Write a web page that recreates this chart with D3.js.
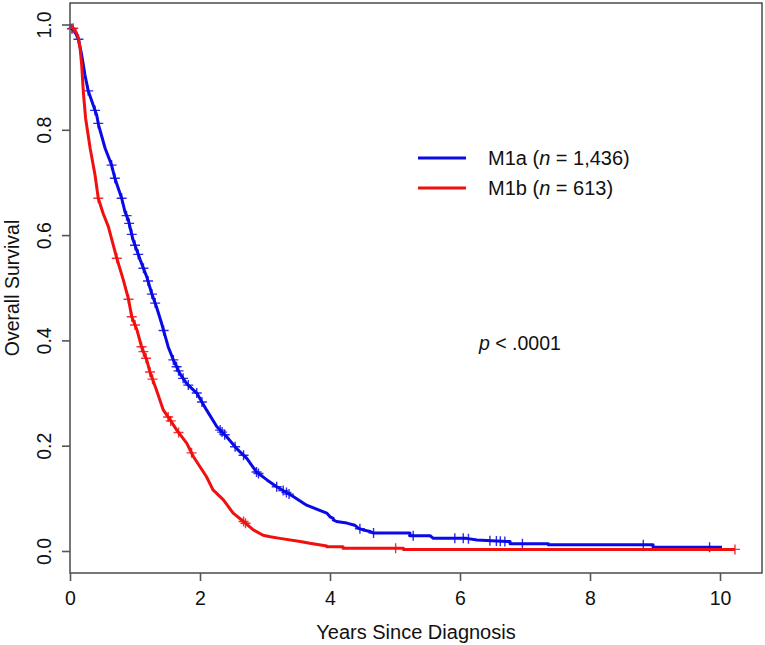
<!DOCTYPE html>
<html>
<head>
<meta charset="utf-8">
<script src="https://cdn.jsdelivr.net/npm/d3@7"></script>
<style>
  body { margin: 0; background: #fff; }
  svg { display: block; font-family: "Liberation Sans", Arial, sans-serif; }
</style>
</head>
<body>
<svg id="chart" width="765" height="645"></svg>
<script>
// Kaplan-Meier curves: [years, survival]
const m1aCurve = [
  [0, 1.0], [0.03, 0.992], [0.08, 0.985], [0.13, 0.972], [0.18, 0.942], [0.23, 0.904], [0.28, 0.874],
  [0.41, 0.828], [0.44, 0.809], [0.54, 0.765], [0.64, 0.733], [0.69, 0.708], [0.795, 0.670],
  [0.846, 0.644], [0.897, 0.629], [0.97, 0.591], [1.08, 0.553], [1.18, 0.521], [1.257, 0.489],
  [1.33, 0.464], [1.41, 0.432], [1.51, 0.388], [1.59, 0.363], [1.69, 0.337], [1.795, 0.318],
  [1.95, 0.300], [2.10, 0.268], [2.26, 0.236], [2.41, 0.217], [2.56, 0.195], [2.72, 0.176],
  [2.87, 0.150], [3.03, 0.135], [3.18, 0.122], [3.44, 0.103], [3.64, 0.087], [3.95, 0.072],
  [4.0, 0.065], [4.05, 0.062], [4.05, 0.059], [4.10, 0.056], [4.26, 0.053], [4.38, 0.049],
  [4.44, 0.043], [4.51, 0.040], [4.62, 0.037], [4.67, 0.034], [5.23, 0.034], [5.23, 0.029],
  [5.54, 0.029], [5.59, 0.024], [6.10, 0.024], [6.26, 0.021], [6.72, 0.018], [6.77, 0.018],
  [6.77, 0.014], [7.36, 0.014], [7.36, 0.012], [8.97, 0.012], [8.97, 0.007], [10.03, 0.007]
];
const m1bCurve = [
  [0, 1.0], [0.05, 0.993], [0.1, 0.984], [0.13, 0.974], [0.155, 0.955], [0.18, 0.923], [0.205, 0.872],
  [0.24, 0.822], [0.31, 0.765], [0.385, 0.714], [0.435, 0.670], [0.51, 0.641], [0.59, 0.616], [0.72, 0.556],
  [0.82, 0.515], [0.897, 0.480], [0.95, 0.445], [1.03, 0.420], [1.10, 0.388], [1.18, 0.363],
  [1.23, 0.340], [1.33, 0.306], [1.435, 0.268], [1.54, 0.249], [1.64, 0.230], [1.795, 0.205],
  [1.90, 0.179], [2.0, 0.160], [2.10, 0.141], [2.2, 0.116], [2.36, 0.097], [2.51, 0.072],
  [2.67, 0.056], [2.82, 0.040], [2.97, 0.030], [3.08, 0.027], [3.23, 0.024], [3.54, 0.018],
  [3.69, 0.0146], [3.95, 0.0095], [3.95, 0.008], [4.2, 0.008], [4.2, 0.005], [5.13, 0.005],
  [5.13, 0.003], [10.23, 0.003]
];
// censoring times (years)
const m1aCensor = [0.03, 0.13, 0.28, 0.385, 0.435, 0.64, 0.69, 0.795, 0.87, 0.91, 0.95, 1.0,
  1.05, 1.13, 1.2, 1.26, 1.31, 1.44, 1.59, 1.64, 1.67, 1.74, 1.82, 1.95, 2.03, 2.31, 2.34,
  2.38, 2.54, 2.67, 2.87, 2.9, 3.18, 3.28, 3.33, 3.37, 4.46, 4.67, 5.28, 5.92, 6.05, 6.13,
  6.46, 6.56, 6.62, 6.69, 6.96, 8.82, 9.84];
const m1bCensor = [0.05, 0.435, 0.72, 0.90, 0.95, 1.0, 1.1, 1.13, 1.17, 1.23, 1.27, 1.51,
  1.55, 1.67, 1.87, 2.67, 2.70, 5.01, 10.23];

const xTicks = [0, 2, 4, 6, 8, 10];
const yTicks = [0, 0.2, 0.4, 0.6, 0.8, 1.0];
const series = [
  { name: 'M1a', n: '1,436', curve: m1aCurve, censor: m1aCensor, color: '#0a0ae6' },
  { name: 'M1b', n: '613', curve: m1bCurve, censor: m1bCensor, color: '#f01010' }
];

const svg = d3.select('#chart');
const box = { left: 70, right: 762, top: 3, bottom: 573 };

const x = d3.scaleLinear().domain([0, 10.646]).range([box.left, box.right]);
const y = d3.scaleLinear().domain([0, 1]).range([551, 24.5]);

// survival at time t along the drawn polyline
function survAt(curve, t) {
  for (let i = 1; i < curve.length; i++) {
    const a = curve[i - 1], b = curve[i];
    if (t <= b[0]) {
      if (b[0] === a[0]) return a[1];
      return a[1] + (b[1] - a[1]) * (t - a[0]) / (b[0] - a[0]);
    }
  }
  return curve[curve.length - 1][1];
}

const line = d3.line().x(d => x(d[0])).y(d => y(d[1]));

series.forEach(s => {
  svg.append('path')
    .datum(s.curve)
    .attr('d', line)
    .attr('fill', 'none')
    .attr('stroke', s.color)
    .attr('stroke-width', 3)
    .attr('stroke-linejoin', 'round');

  svg.append('g')
    .selectAll('path')
    .data(s.censor)
    .enter()
    .append('path')
    .attr('d', t => {
      const cx = x(t), cy = y(survAt(s.curve, t));
      return `M${cx - 5},${cy}H${cx + 5}M${cx},${cy - 5}V${cy + 5}`;
    })
    .attr('stroke', s.color)
    .attr('stroke-width', 1.4)
    .attr('opacity', 0.85);
});

// frame
svg.append('rect')
  .attr('x', box.left)
  .attr('y', box.top)
  .attr('width', box.right - box.left)
  .attr('height', box.bottom - box.top)
  .attr('fill', 'none')
  .attr('stroke', '#555')
  .attr('stroke-width', 1.6);

// X axis
const gx = svg.append('g')
  .attr('transform', `translate(0,${box.bottom})`)
  .call(d3.axisBottom(x).tickValues(xTicks).tickSize(8).tickPadding(10).tickFormat(d3.format('d')));
gx.select('.domain').remove();
gx.selectAll('line').attr('stroke', '#555').attr('stroke-width', 1.6);
gx.selectAll('text').attr('font-size', 19.5).attr('fill', '#111').attr('font-family', null);

// Y axis
const gy = svg.append('g')
  .attr('transform', `translate(${box.left},0)`)
  .call(d3.axisLeft(y).tickValues(yTicks).tickSize(8).tickFormat(d3.format('.1f')));
gy.select('.domain').remove();
gy.selectAll('line').attr('stroke', '#555').attr('stroke-width', 1.6);
gy.selectAll('text')
  .attr('font-size', 19.5)
  .attr('fill', '#111')
  .attr('font-family', null)
  .attr('x', null)
  .attr('text-anchor', 'middle')
  .attr('transform', 'translate(-26,0) rotate(-90)')
  .attr('dy', '0.35em');

// axis titles
svg.append('text')
  .attr('x', (box.left + box.right) / 2)
  .attr('y', 639)
  .attr('text-anchor', 'middle')
  .attr('font-size', 20)
  .attr('fill', '#111')
  .text('Years Since Diagnosis');

svg.append('text')
  .attr('transform', `translate(19,${(box.top + box.bottom) / 2}) rotate(-90)`)
  .attr('text-anchor', 'middle')
  .attr('font-size', 19.5)
  .attr('fill', '#111')
  .text('Overall Survival');

// legend
const legend = svg.append('g').attr('transform', 'translate(418,158)');
series.forEach((s, i) => {
  const row = legend.append('g').attr('transform', `translate(0,${i * 30})`);
  row.append('line')
    .attr('x1', 0).attr('x2', 48)
    .attr('stroke', s.color)
    .attr('stroke-width', 3);
  const t = row.append('text')
    .attr('x', 70)
    .attr('dy', '0.35em')
    .attr('font-size', 20)
    .attr('fill', '#111');
  t.append('tspan').text(s.name + ' (');
  t.append('tspan').attr('font-style', 'italic').text('n');
  t.append('tspan').text(' = ' + s.n + ')');
});

// p value
const pText = svg.append('text')
  .attr('x', 479)
  .attr('y', 343)
  .attr('dy', '0.35em')
  .attr('font-size', 19.5)
  .attr('fill', '#111');
pText.append('tspan').attr('font-style', 'italic').text('p');
pText.append('tspan').text(' < .0001');
</script>
</body>
</html>
